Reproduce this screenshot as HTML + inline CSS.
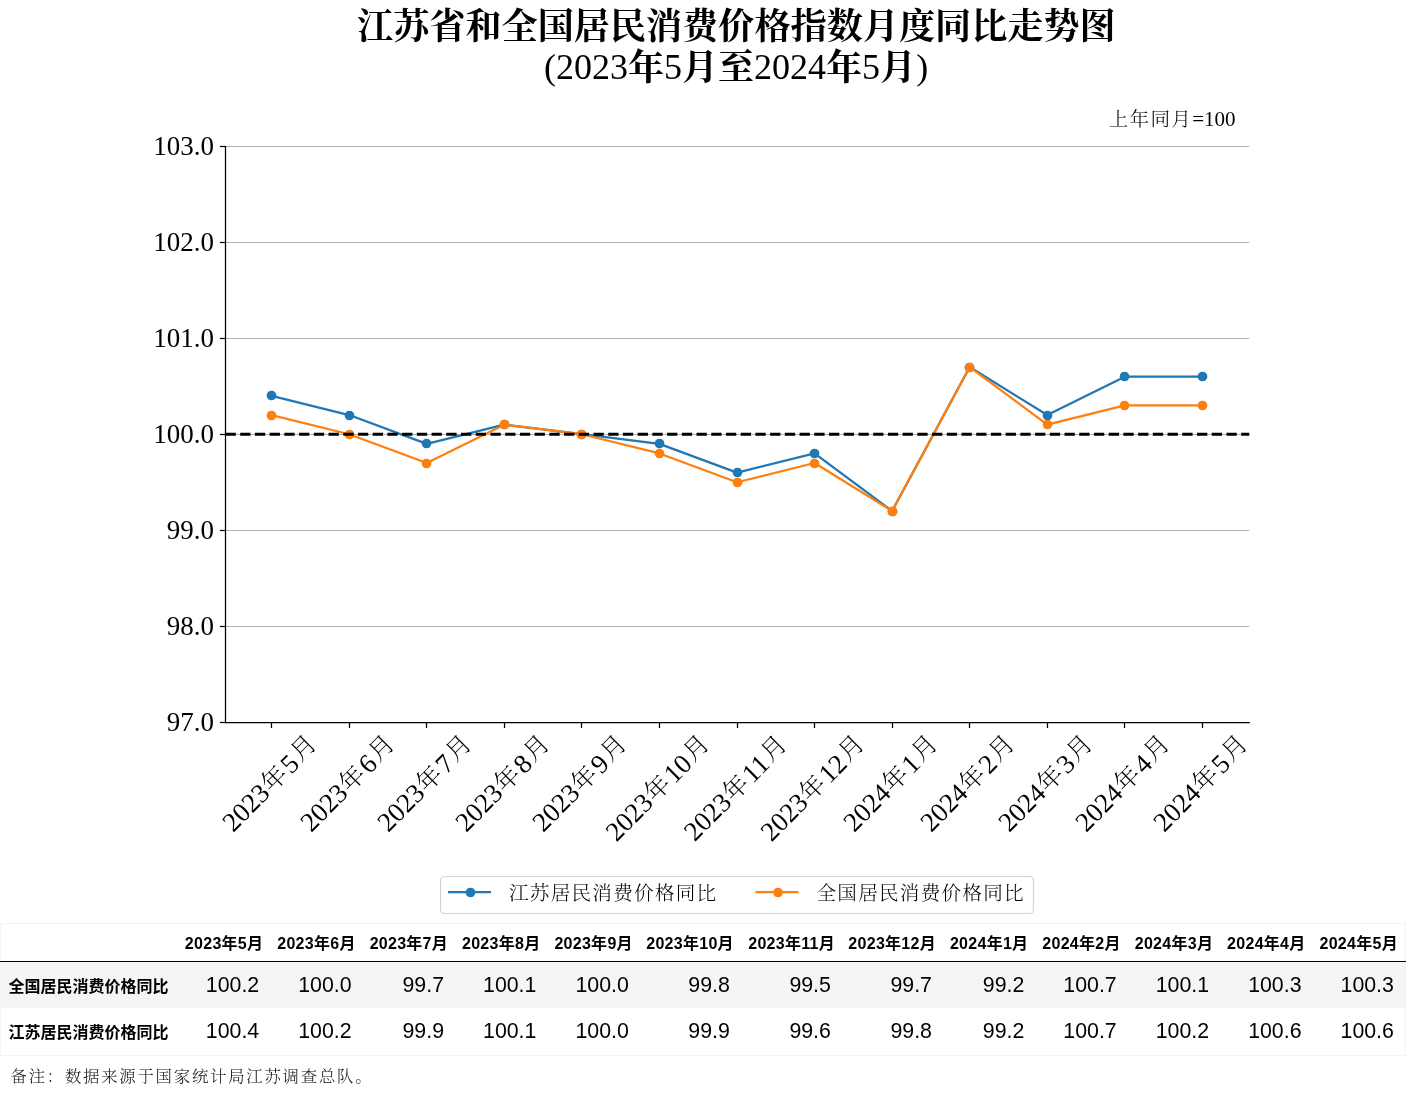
<!DOCTYPE html>
<html lang="zh-CN"><head><meta charset="utf-8"><title>江苏省和全国居民消费价格指数月度同比走势图</title>
<style>
html,body{margin:0;padding:0;background:#fff;}
body{width:1406px;height:1106px;position:relative;overflow:hidden;font-family:"Liberation Sans","Noto Sans CJK SC",sans-serif;}
svg text{fill:#000;}
.ttl{font-family:"Liberation Serif","Noto Serif CJK SC",serif;font-weight:700;font-size:36px;}
.ttl .n{font-weight:400;}
.fs{font-family:"Liberation Serif","Noto Serif CJK SC",serif;font-weight:300;font-size:21px;fill:#000;}
.lat{font-family:"Liberation Serif",serif;font-weight:400;}
.tk{font-family:"Liberation Serif",serif;font-size:27px;}
.xt{font-family:"Liberation Serif","Noto Serif CJK SC",serif;font-weight:300;font-size:27px;}
.lg{font-size:19.6px;letter-spacing:1.25px;}
.cj{font-size:19.6px;letter-spacing:1.25px;}
.cx{font-size:25px;letter-spacing:2px;}
table{position:absolute;left:0;top:923px;width:1406px;border-collapse:separate;border-spacing:0;border:1px solid #f4f4f4;table-layout:fixed;box-sizing:border-box;}
th,td{text-align:right;white-space:nowrap;box-sizing:border-box;vertical-align:top;overflow:visible;}
thead th{font-size:16px;font-weight:700;letter-spacing:0.28px;padding:0 6.6px 0 0;height:38px;line-height:37px;border-bottom:1px solid #000;}
thead th span{position:relative;top:1px;}
tbody th{font-size:16px;font-weight:700;padding:0 0 0 7.5px;text-align:left;line-height:46px;}
tbody th span{position:relative;top:2px;}
tbody td{font-size:21.33px;padding:0 10.67px 0 0;height:46px;line-height:46px;}
tbody tr:nth-child(2) td,tbody tr:nth-child(2) th{height:47px;}
thead th:last-child{padding-right:7.35px;}
tbody td:last-child{padding-right:11.42px;}
tbody tr:nth-child(odd){background:#f5f5f5;}
.note{position:absolute;left:10.5px;top:1064px;font-family:"Liberation Serif","Noto Serif CJK SC",serif;font-weight:300;font-size:16.4px;letter-spacing:1.75px;color:#111;line-height:26px;white-space:nowrap;}
</style></head><body>
<svg width="1406" height="923" viewBox="0 0 1406 923" style="position:absolute;left:0;top:0">
<text class="ttl" x="736.4" y="38.5" text-anchor="middle" style="font-size:36.13px">江苏省和全国居民消费价格指数月度同比走势图</text>
<text class="ttl" x="736.1" y="80.2" text-anchor="middle"><tspan class="n" dy="-1">(2023</tspan><tspan dy="1">年</tspan><tspan class="n" dy="-1">5</tspan><tspan dy="1">月至</tspan><tspan class="n" dy="-1">2024</tspan><tspan dy="1">年</tspan><tspan class="n" dy="-1">5</tspan><tspan dy="1">月</tspan><tspan class="n" dy="-1">)</tspan></text>
<text class="fs" x="1235.5" y="126" text-anchor="end"><tspan class="cj">上年同月</tspan><tspan class="lat">=100</tspan></text>
<line x1="225.5" x2="1249.3" y1="626.50" y2="626.50" stroke="#b0b0b0" stroke-width="1.1"/>
<line x1="225.5" x2="1249.3" y1="530.50" y2="530.50" stroke="#b0b0b0" stroke-width="1.1"/>
<line x1="225.5" x2="1249.3" y1="434.50" y2="434.50" stroke="#b0b0b0" stroke-width="1.1"/>
<line x1="225.5" x2="1249.3" y1="338.50" y2="338.50" stroke="#b0b0b0" stroke-width="1.1"/>
<line x1="225.5" x2="1249.3" y1="242.50" y2="242.50" stroke="#b0b0b0" stroke-width="1.1"/>
<line x1="225.5" x2="1249.3" y1="146.50" y2="146.50" stroke="#b0b0b0" stroke-width="1.1"/>
<polyline points="271.65,395.85 349.21,415.05 426.77,443.84 504.33,424.64 581.89,434.24 659.45,443.84 737.01,472.63 814.57,453.43 892.13,511.02 969.69,367.06 1047.25,415.05 1124.81,376.66 1202.37,376.66" fill="none" stroke="#1f77b4" stroke-width="2.25" stroke-linejoin="round"/>
<circle cx="271.50" cy="395.50" r="4.85" fill="#1f77b4"/>
<circle cx="349.50" cy="415.50" r="4.85" fill="#1f77b4"/>
<circle cx="426.50" cy="443.50" r="4.85" fill="#1f77b4"/>
<circle cx="504.50" cy="424.50" r="4.85" fill="#1f77b4"/>
<circle cx="581.50" cy="434.50" r="4.85" fill="#1f77b4"/>
<circle cx="659.50" cy="443.50" r="4.85" fill="#1f77b4"/>
<circle cx="737.50" cy="472.50" r="4.85" fill="#1f77b4"/>
<circle cx="814.50" cy="453.50" r="4.85" fill="#1f77b4"/>
<circle cx="892.50" cy="511.50" r="4.85" fill="#1f77b4"/>
<circle cx="969.50" cy="367.50" r="4.85" fill="#1f77b4"/>
<circle cx="1047.50" cy="415.50" r="4.85" fill="#1f77b4"/>
<circle cx="1124.50" cy="376.50" r="4.85" fill="#1f77b4"/>
<circle cx="1202.50" cy="376.50" r="4.85" fill="#1f77b4"/>
<polyline points="271.65,415.05 349.21,434.24 426.77,463.03 504.33,424.64 581.89,434.24 659.45,453.43 737.01,482.22 814.57,463.03 892.13,511.02 969.69,367.06 1047.25,424.64 1124.81,405.45 1202.37,405.45" fill="none" stroke="#ff7f0e" stroke-width="2.25" stroke-linejoin="round"/>
<circle cx="271.50" cy="415.50" r="4.85" fill="#ff7f0e"/>
<circle cx="349.50" cy="434.50" r="4.85" fill="#ff7f0e"/>
<circle cx="426.50" cy="463.50" r="4.85" fill="#ff7f0e"/>
<circle cx="504.50" cy="424.50" r="4.85" fill="#ff7f0e"/>
<circle cx="581.50" cy="434.50" r="4.85" fill="#ff7f0e"/>
<circle cx="659.50" cy="453.50" r="4.85" fill="#ff7f0e"/>
<circle cx="737.50" cy="482.50" r="4.85" fill="#ff7f0e"/>
<circle cx="814.50" cy="463.50" r="4.85" fill="#ff7f0e"/>
<circle cx="892.50" cy="511.50" r="4.85" fill="#ff7f0e"/>
<circle cx="969.50" cy="367.50" r="4.85" fill="#ff7f0e"/>
<circle cx="1047.50" cy="424.50" r="4.85" fill="#ff7f0e"/>
<circle cx="1124.50" cy="405.50" r="4.85" fill="#ff7f0e"/>
<circle cx="1202.50" cy="405.50" r="4.85" fill="#ff7f0e"/>
<line x1="225.5" x2="1249.3" y1="434.24" y2="434.24" stroke="#000" stroke-width="3" stroke-dasharray="10.28 4.44"/>
<line x1="225.5" x2="225.5" y1="145.90" y2="723.10" stroke="#000" stroke-width="1.25"/>
<line x1="224.9" x2="1249.8999999999999" y1="722.5" y2="722.5" stroke="#000" stroke-width="1.25"/>
<line x1="220.00" x2="225.5" y1="722.50" y2="722.50" stroke="#000" stroke-width="1.25"/>
<text class="tk" x="214.1" y="730.90" text-anchor="end">97.0</text>
<line x1="220.00" x2="225.5" y1="626.50" y2="626.50" stroke="#000" stroke-width="1.25"/>
<text class="tk" x="214.1" y="634.90" text-anchor="end">98.0</text>
<line x1="220.00" x2="225.5" y1="530.50" y2="530.50" stroke="#000" stroke-width="1.25"/>
<text class="tk" x="214.1" y="538.90" text-anchor="end">99.0</text>
<line x1="220.00" x2="225.5" y1="434.50" y2="434.50" stroke="#000" stroke-width="1.25"/>
<text class="tk" x="214.1" y="442.90" text-anchor="end">100.0</text>
<line x1="220.00" x2="225.5" y1="338.50" y2="338.50" stroke="#000" stroke-width="1.25"/>
<text class="tk" x="214.1" y="346.90" text-anchor="end">101.0</text>
<line x1="220.00" x2="225.5" y1="242.50" y2="242.50" stroke="#000" stroke-width="1.25"/>
<text class="tk" x="214.1" y="250.90" text-anchor="end">102.0</text>
<line x1="220.00" x2="225.5" y1="146.50" y2="146.50" stroke="#000" stroke-width="1.25"/>
<text class="tk" x="214.1" y="154.90" text-anchor="end">103.0</text>
<line x1="271.50" x2="271.50" y1="722.5" y2="728.00" stroke="#000" stroke-width="1.25"/>
<text class="xt" transform="translate(270.70,782.69) rotate(-45)" text-anchor="middle" y="9"><tspan class="lat">2023</tspan><tspan class="cx" dx="1" dy="-0.8">年</tspan><tspan class="lat" dy="0.8">5</tspan><tspan class="cx" dx="1.6" dy="-2">月</tspan></text>
<line x1="349.50" x2="349.50" y1="722.5" y2="728.00" stroke="#000" stroke-width="1.25"/>
<text class="xt" transform="translate(348.70,782.69) rotate(-45)" text-anchor="middle" y="9"><tspan class="lat">2023</tspan><tspan class="cx" dx="1" dy="-0.8">年</tspan><tspan class="lat" dy="0.8">6</tspan><tspan class="cx" dx="1.6" dy="-2">月</tspan></text>
<line x1="426.50" x2="426.50" y1="722.5" y2="728.00" stroke="#000" stroke-width="1.25"/>
<text class="xt" transform="translate(425.70,782.69) rotate(-45)" text-anchor="middle" y="9"><tspan class="lat">2023</tspan><tspan class="cx" dx="1" dy="-0.8">年</tspan><tspan class="lat" dy="0.8">7</tspan><tspan class="cx" dx="1.6" dy="-2">月</tspan></text>
<line x1="504.50" x2="504.50" y1="722.5" y2="728.00" stroke="#000" stroke-width="1.25"/>
<text class="xt" transform="translate(503.70,782.69) rotate(-45)" text-anchor="middle" y="9"><tspan class="lat">2023</tspan><tspan class="cx" dx="1" dy="-0.8">年</tspan><tspan class="lat" dy="0.8">8</tspan><tspan class="cx" dx="1.6" dy="-2">月</tspan></text>
<line x1="581.50" x2="581.50" y1="722.5" y2="728.00" stroke="#000" stroke-width="1.25"/>
<text class="xt" transform="translate(580.70,782.69) rotate(-45)" text-anchor="middle" y="9"><tspan class="lat">2023</tspan><tspan class="cx" dx="1" dy="-0.8">年</tspan><tspan class="lat" dy="0.8">9</tspan><tspan class="cx" dx="1.6" dy="-2">月</tspan></text>
<line x1="659.50" x2="659.50" y1="722.5" y2="728.00" stroke="#000" stroke-width="1.25"/>
<text class="xt" transform="translate(658.70,787.46) rotate(-45)" text-anchor="middle" y="9"><tspan class="lat">2023</tspan><tspan class="cx" dx="1" dy="-0.8">年</tspan><tspan class="lat" dy="0.8">10</tspan><tspan class="cx" dx="1.6" dy="-2">月</tspan></text>
<line x1="737.50" x2="737.50" y1="722.5" y2="728.00" stroke="#000" stroke-width="1.25"/>
<text class="xt" transform="translate(736.70,787.46) rotate(-45)" text-anchor="middle" y="9"><tspan class="lat">2023</tspan><tspan class="cx" dx="1" dy="-0.8">年</tspan><tspan class="lat" dy="0.8">11</tspan><tspan class="cx" dx="1.6" dy="-2">月</tspan></text>
<line x1="814.50" x2="814.50" y1="722.5" y2="728.00" stroke="#000" stroke-width="1.25"/>
<text class="xt" transform="translate(813.70,787.46) rotate(-45)" text-anchor="middle" y="9"><tspan class="lat">2023</tspan><tspan class="cx" dx="1" dy="-0.8">年</tspan><tspan class="lat" dy="0.8">12</tspan><tspan class="cx" dx="1.6" dy="-2">月</tspan></text>
<line x1="892.50" x2="892.50" y1="722.5" y2="728.00" stroke="#000" stroke-width="1.25"/>
<text class="xt" transform="translate(891.70,782.69) rotate(-45)" text-anchor="middle" y="9"><tspan class="lat">2024</tspan><tspan class="cx" dx="1" dy="-0.8">年</tspan><tspan class="lat" dy="0.8">1</tspan><tspan class="cx" dx="1.6" dy="-2">月</tspan></text>
<line x1="969.50" x2="969.50" y1="722.5" y2="728.00" stroke="#000" stroke-width="1.25"/>
<text class="xt" transform="translate(968.70,782.69) rotate(-45)" text-anchor="middle" y="9"><tspan class="lat">2024</tspan><tspan class="cx" dx="1" dy="-0.8">年</tspan><tspan class="lat" dy="0.8">2</tspan><tspan class="cx" dx="1.6" dy="-2">月</tspan></text>
<line x1="1047.50" x2="1047.50" y1="722.5" y2="728.00" stroke="#000" stroke-width="1.25"/>
<text class="xt" transform="translate(1046.70,782.69) rotate(-45)" text-anchor="middle" y="9"><tspan class="lat">2024</tspan><tspan class="cx" dx="1" dy="-0.8">年</tspan><tspan class="lat" dy="0.8">3</tspan><tspan class="cx" dx="1.6" dy="-2">月</tspan></text>
<line x1="1124.50" x2="1124.50" y1="722.5" y2="728.00" stroke="#000" stroke-width="1.25"/>
<text class="xt" transform="translate(1123.70,782.69) rotate(-45)" text-anchor="middle" y="9"><tspan class="lat">2024</tspan><tspan class="cx" dx="1" dy="-0.8">年</tspan><tspan class="lat" dy="0.8">4</tspan><tspan class="cx" dx="1.6" dy="-2">月</tspan></text>
<line x1="1202.50" x2="1202.50" y1="722.5" y2="728.00" stroke="#000" stroke-width="1.25"/>
<text class="xt" transform="translate(1201.70,782.69) rotate(-45)" text-anchor="middle" y="9"><tspan class="lat">2024</tspan><tspan class="cx" dx="1" dy="-0.8">年</tspan><tspan class="lat" dy="0.8">5</tspan><tspan class="cx" dx="1.6" dy="-2">月</tspan></text>
<rect x="440.5" y="876.5" width="593" height="37" rx="4" fill="#fff" stroke="#d2d2d2" stroke-width="1.2"/>
<line x1="448" x2="491" y1="892.05" y2="892.05" stroke="#1f77b4" stroke-width="2.25"/><circle cx="470.5" cy="892.5" r="4.85" fill="#1f77b4"/>
<text class="fs lg" x="509" y="900">江苏居民消费价格同比</text>
<line x1="755.5" x2="798.5" y1="892.05" y2="892.05" stroke="#ff7f0e" stroke-width="2.25"/><circle cx="778" cy="892.5" r="4.85" fill="#ff7f0e"/>
<text class="fs lg" x="816.5" y="900">全国居民消费价格同比</text>
</svg>
<table><colgroup><col style="width:176.5px"><col style="width:92.4px"><col style="width:92.4px"><col style="width:92.4px"><col style="width:92.4px"><col style="width:92.4px"><col style="width:101.05px"><col style="width:101.05px"><col style="width:101.05px"><col style="width:92.4px"><col style="width:92.4px"><col style="width:92.4px"><col style="width:92.4px"><col style="width:93.15px"></colgroup>
<thead><tr><th></th><th><span>2023年5月</span></th><th><span>2023年6月</span></th><th><span>2023年7月</span></th><th><span>2023年8月</span></th><th><span>2023年9月</span></th><th><span>2023年10月</span></th><th><span>2023年11月</span></th><th><span>2023年12月</span></th><th><span>2024年1月</span></th><th><span>2024年2月</span></th><th><span>2024年3月</span></th><th><span>2024年4月</span></th><th><span>2024年5月</span></th></tr></thead>
<tbody><tr><th><span>全国居民消费价格同比</span></th><td>100.2</td><td>100.0</td><td>99.7</td><td>100.1</td><td>100.0</td><td>99.8</td><td>99.5</td><td>99.7</td><td>99.2</td><td>100.7</td><td>100.1</td><td>100.3</td><td>100.3</td></tr>
<tr><th><span>江苏居民消费价格同比</span></th><td>100.4</td><td>100.2</td><td>99.9</td><td>100.1</td><td>100.0</td><td>99.9</td><td>99.6</td><td>99.8</td><td>99.2</td><td>100.7</td><td>100.2</td><td>100.6</td><td>100.6</td></tr></tbody></table>
<div style="position:absolute;left:0;top:961px;width:1406px;height:1px;background:#000"></div>
<div class="note">备注：数据来源于国家统计局江苏调查总队。</div>
</body></html>
